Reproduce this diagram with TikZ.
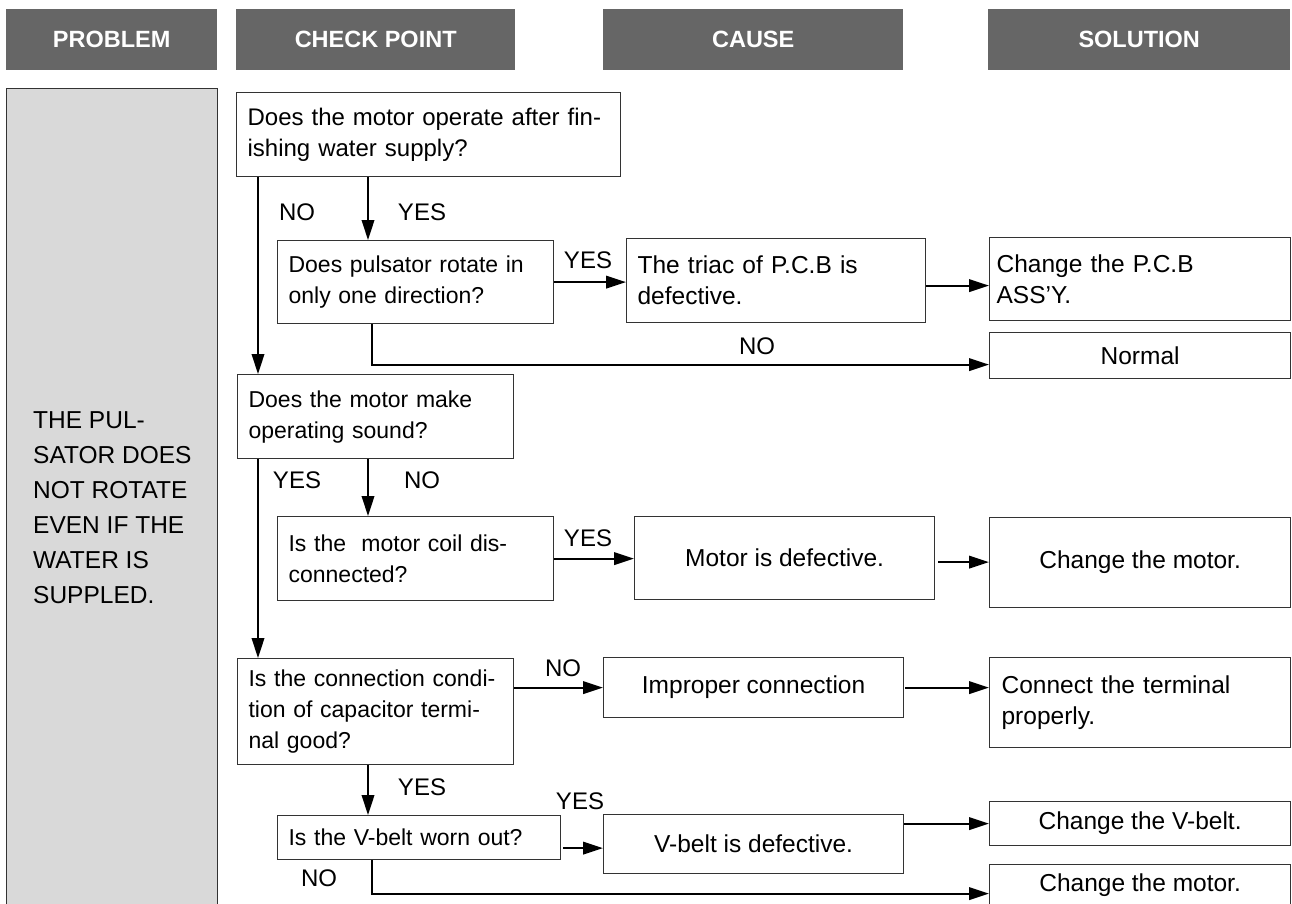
\documentclass[tikz,border=0pt]{standalone}
\usepackage{fontspec}
\setmainfont{Liberation Sans}
\usetikzlibrary{arrows.meta, positioning}
\definecolor{headgray}{HTML}{666666}
\definecolor{probgray}{HTML}{D9D9D9}
\definecolor{edgegray}{HTML}{333333}

\begin{document}
\begin{tikzpicture}[x=1pt, y=-1pt,
    every node/.style={font=\fontsize{23}{31}\selectfont, inner sep=0pt},
    big/.style={font=\fontsize{24.5}{31}\selectfont},
    lbl/.style={font=\fontsize{24}{31}\selectfont},
    head/.style={fill=headgray, text=white, anchor=north west, minimum height=61pt,
        font=\bfseries\fontsize{23.5}{28}\selectfont},
    qbox/.style={draw=edgegray, line width=1.2pt, anchor=north west, align=left, inner xsep=11pt},
    cbox/.style={draw=edgegray, line width=1.2pt, anchor=north west, align=center, big},
    arr/.style={-{Triangle[length=20pt,width=12.5pt]}, line width=2.2pt}]
    \useasboundingbox (0,0) rectangle (1292,904);

    % Headers
    \node[head, minimum width=211pt] (hprob) at (6,9) {PROBLEM};
    \node[head, minimum width=279pt] (hcheck) at (236,9) {CHECK POINT};
    \node[head, minimum width=300pt] (hcause) at (603,9) {CAUSE};
    \node[head, minimum width=302pt] (hsol) at (988,9) {SOLUTION};

    % Problem column
    \node[draw=edgegray, line width=1.2pt, fill=probgray, anchor=north west,
        minimum width=211pt, minimum height=822pt] (prob) at (6,88) {};
    \node[anchor=west, align=left, font=\fontsize{24.5}{35}\selectfont] (probtxt) at (33,508)
        {THE PUL-\\SATOR DOES\\NOT ROTATE\\EVEN IF THE\\WATER IS\\SUPPLED.};

    % Check points
    \node[qbox, lbl, text width=362pt, minimum height=84pt] (qop) at (236,92)
        {Does the motor operate after fin-\\ishing water supply?};
    \node[qbox, text width=254pt, minimum height=83pt] (qdir) at (277,240)
        {Does pulsator rotate in\\only one direction?};
    \node[qbox, text width=254pt, minimum height=84pt] (qsound) at (237,374)
        {Does the motor make\\operating sound?};
    \node[qbox, text width=254pt, minimum height=84pt] (qcoil) at (277,516)
        {Is the~ motor coil dis-\\connected?};
    \node[qbox, text width=254pt, minimum height=106pt] (qconn) at (237,658)
        {Is the connection condi-\\tion of capacitor termi-\\nal good?};
    \node[qbox, text width=261pt, minimum height=44pt] (qbelt) at (277,815)
        {Is the V-belt worn out?};

    % Causes
    \node[qbox, big, text width=277pt, minimum height=84pt] (ctriac) at (626,238)
        {The triac of P.C.B is\\defective.};
    \node[cbox, minimum width=300pt, minimum height=83pt] (cmotor) at (634,516)
        {Motor is defective.};
    \node[cbox, minimum width=300pt, minimum height=60pt] (cconn) at (603,657)
        {Improper connection};
    \node[cbox, minimum width=300pt, minimum height=59pt] (cbelt) at (603,814)
        {V-belt is defective.};

    % Solutions
    \node[qbox, big, inner xsep=7pt, text width=287pt, minimum height=83pt] (spcb) at (989,237)
        {Change the P.C.B\\ASS'Y.};
    \node[cbox, minimum width=301pt, minimum height=46pt] (snormal) at (989,332) {Normal};
    \node[cbox, minimum width=301pt, minimum height=90pt] (smotor) at (989,517)
        {Change the motor.};
    \node[qbox, big, inner xsep=12pt, text width=277pt, minimum height=90pt] (sterm) at (989,657)
        {Connect the terminal\\properly.};
    \node[cbox, minimum width=301pt, minimum height=44pt] (sbelt) at (989,801)
        {Change the V-belt.};
    \node[cbox, minimum width=301pt, minimum height=42pt] (smotor2) at (989,864)
        {Change the motor.};

    % Lanes of the vertical connectors
    \coordinate (laneA) at (258,0);
    \coordinate (laneB) at (368,0);
    \coordinate (laneC) at (372,0);

    % Connectors
    \draw[arr] (qop.south -| laneA) -- (qsound.north -| laneA);
    \draw[arr] (qop.south -| laneB) -- (qdir.north -| laneB);
    \draw[arr] (qdir.east) -- (qdir.east -| ctriac.west);
    \draw[arr] ([yshift=-5pt]ctriac.east) -- ([yshift=-5pt]ctriac.east -| spcb.west);
    \draw[arr] (qdir.south -| laneC) |- ([yshift=-9pt]snormal.west);
    \draw[arr] (qsound.south -| laneA) -- (qconn.north -| laneA);
    \draw[arr] (qsound.south -| laneB) -- (qcoil.north -| laneB);
    \draw[arr] (qcoil.east) -- (qcoil.east -| cmotor.west);
    \draw[arr, shorten <=3pt] ([yshift=-4pt]cmotor.east) -- ([yshift=-4pt]cmotor.east -| smotor.west);
    \draw[arr] (qconn.east |- cconn.west) -- (cconn.west);
    \draw[arr, shorten <=1pt] (cconn.east) -- (cconn.east -| sterm.west);
    \draw[arr] (qconn.south -| laneB) -- (qbelt.north -| laneB);
    \draw[arr, shorten <=2pt] ([yshift=-4pt]qbelt.east |- cbelt.west) -- ([yshift=-4pt]cbelt.west);
    \draw[arr] (cbelt.east |- sbelt.west) -- (sbelt.west);
    \draw[arr] (qbelt.south -| laneC) |- ([yshift=-8pt]smotor2.west);

    % Labels on connectors
    \node[lbl] (lbno1) at (297,212) {NO};
    \node[lbl] (lbyes1) at (422,212) {YES};
    \node[lbl] (lbyes2) at (588,260) {YES};
    \node[lbl] (lbno2) at (757,346) {NO};
    \node[lbl] (lbyes3) at (297,480) {YES};
    \node[lbl] (lbno3) at (422,480) {NO};
    \node[lbl] (lbyes4) at (588,538) {YES};
    \node[lbl] (lbno4) at (563,668) {NO};
    \node[lbl] (lbyes5) at (422,787) {YES};
    \node[lbl] (lbyes6) at (580,801) {YES};
    \node[lbl] (lbno5) at (319,878) {NO};
\end{tikzpicture}
\end{document}
